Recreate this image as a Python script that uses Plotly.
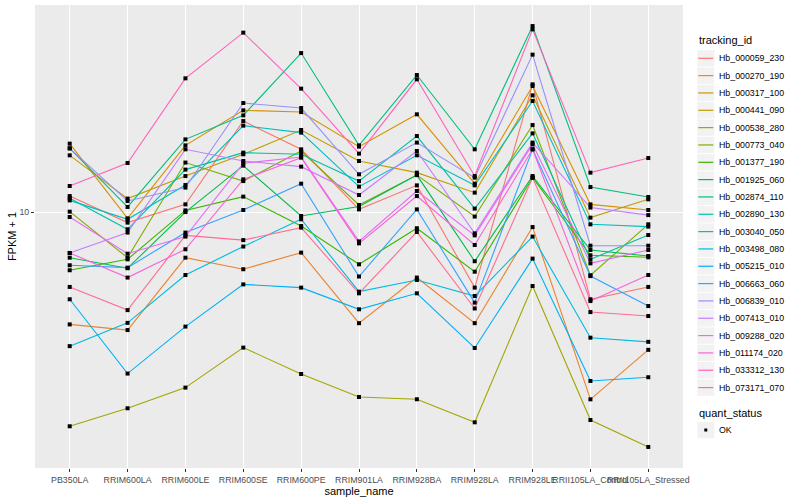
import plotly.graph_objects as go

samples = ["PB350LA", "RRIM600LA", "RRIM600LE", "RRIM600SE", "RRIM600PE", "RRIM901LA",
           "RRIM928BA", "RRIM928LA", "RRIM928LE", "RRII105LA_Control", "RRII105LA_Stressed"]

tracking_ids = ["Hb_000059_230", "Hb_000270_190", "Hb_000317_100", "Hb_000441_090", "Hb_000538_280",
                "Hb_000773_040", "Hb_001377_190", "Hb_001925_060", "Hb_002874_110", "Hb_002890_130",
                "Hb_003040_050", "Hb_003498_080", "Hb_005215_010", "Hb_006663_060", "Hb_006839_010",
                "Hb_007413_010", "Hb_009288_020", "Hb_011174_020", "Hb_033312_130", "Hb_073171_070"]

# FPKM + 1 per sample (same order as samples)
hb_000059_230 = [11.33, 9.24, 10.63, 20.15, 16.22, 10.23, 12.30, 5.61, 26.71, 5.13, 5.64]
hb_000270_190 = [4.23, 4.05, 7.06, 6.46, 7.34, 4.27, 6.06, 4.27, 8.93, 2.38, 3.48]
hb_000317_100 = [16.94, 9.55, 16.72, 21.88, 21.59, 16.56, 21.22, 12.46, 26.36, 10.63, 10.18]
hb_000441_090 = [15.49, 11.11, 13.21, 15.61, 18.81, 14.83, 13.56, 11.63, 24.55, 9.60, 11.05]
hb_000538_280 = [1.935, 2.222, 2.604, 3.540, 2.891, 2.423, 2.381, 1.995, 5.679, 2.031, 1.651]
hb_000773_040 = [10.05, 7.06, 14.65, 12.71, 16.01, 10.58, 13.31, 9.68, 19.54, 6.17, 9.12]
hb_001377_190 = [6.41, 6.97, 10.15, 11.28, 9.00, 6.71, 8.85, 6.34, 13.05, 7.19, 7.08]
hb_001925_060 = [7.06, 6.51, 10.02, 14.31, 9.72, 10.45, 13.31, 6.87, 13.21, 7.49, 7.15]
hb_002874_110 = [16.34, 10.42, 17.51, 21.05, 33.96, 16.72, 28.69, 16.22, 41.78, 12.14, 11.25]
hb_002890_130 = [11.14, 8.78, 13.88, 15.81, 15.61, 12.71, 17.96, 10.29, 18.33, 6.97, 8.40]
hb_003040_050 = [10.96, 9.48, 12.33, 19.45, 18.44, 12.18, 15.49, 12.30, 23.50, 9.12, 8.96]
hb_003498_080 = [3.58, 4.28, 6.18, 7.69, 9.48, 5.44, 5.95, 5.26, 8.30, 3.82, 3.70]
hb_005215_010 = [5.13, 2.90, 4.16, 5.75, 5.61, 4.75, 5.37, 3.53, 7.01, 2.74, 2.82]
hb_006663_060 = [6.66, 6.54, 8.56, 10.18, 12.46, 6.11, 10.23, 5.00, 16.22, 6.13, 4.87]
hb_006839_010 = [16.34, 10.91, 12.09, 23.14, 22.27, 13.39, 17.08, 13.05, 33.55, 7.74, 7.74]
hb_007413_010 = [7.32, 8.56, 16.22, 14.83, 14.20, 11.42, 16.01, 8.51, 17.08, 10.37, 9.79]
hb_009288_020 = [9.65, 7.28, 8.30, 14.57, 15.29, 8.00, 11.78, 8.38, 16.85, 6.76, 7.49]
hb_011174_020 = [7.32, 6.06, 7.53, 12.88, 15.21, 7.88, 11.33, 7.78, 16.22, 5.06, 6.18]
hb_033312_130 = [12.24, 14.60, 27.97, 39.72, 25.84, 15.69, 27.76, 13.21, 40.74, 13.56, 15.17]
hb_073171_070 = [5.64, 4.72, 8.38, 8.08, 8.89, 5.37, 8.60, 4.78, 13.05, 4.65, 4.51]

series_values = [hb_000059_230, hb_000270_190, hb_000317_100, hb_000441_090, hb_000538_280,
                 hb_000773_040, hb_001377_190, hb_001925_060, hb_002874_110, hb_002890_130,
                 hb_003040_050, hb_003498_080, hb_005215_010, hb_006663_060, hb_006839_010,
                 hb_007413_010, hb_009288_020, hb_011174_020, hb_033312_130, hb_073171_070]

quant_status = "OK"

colors = ["#F8766D", "#EA8331", "#D89000", "#C09B00", "#A3A500", "#7CAE00", "#39B600", "#00BB4E",
          "#00BF7D", "#00C1A3", "#00BFC4", "#00BAE0", "#00B0F6", "#35A2FF", "#9590FF", "#C77CFF",
          "#E76BF3", "#FA62DB", "#FF62BC", "#FF6C91"]

FONT = "Liberation Sans, Arial, Helvetica, sans-serif"
W, H = 800, 500
PL, PR, PT, PB = 35, 683, 5, 468  # panel box in pixels


def px2x(px):
    return (px - PL) / (PR - PL)


def py2y(py):
    return (PB - py) / (PB - PT)


fig = go.Figure()
for tid, vals, col in zip(tracking_ids, series_values, colors):
    fig.add_trace(go.Scatter(x=samples, y=vals, mode="lines", name=tid,
                             line=dict(color=col, width=1.1), showlegend=False))

all_x, all_y = [], []
for vals in series_values:
    all_x.extend(samples)
    all_y.extend(vals)
fig.add_trace(go.Scatter(x=all_x, y=all_y, mode="markers", name=quant_status,
                         marker=dict(symbol="square", size=4, color="black"),
                         showlegend=False))

# manual ggplot-style legend
shapes = []
annotations = []
annotations.append(dict(text="tracking_id", xref="paper", yref="paper", x=px2x(697), y=py2y(40.5),
                        xanchor="left", yanchor="middle", showarrow=False,
                        font=dict(size=11, color="black")))
key_x0, key_x1 = 697.3, 714.3
step = 17.33
for i, (tid, col) in enumerate(zip(tracking_ids, colors)):
    cy = 58.3 + i * step
    shapes.append(dict(type="rect", xref="paper", yref="paper", x0=px2x(key_x0), x1=px2x(key_x1),
                       y0=py2y(cy - 8.2), y1=py2y(cy + 8.2), fillcolor="#F2F2F2", line=dict(width=0),
                       layer="below"))
    shapes.append(dict(type="line", xref="paper", yref="paper", x0=px2x(key_x0 + 1), x1=px2x(key_x1 - 1),
                       y0=py2y(cy), y1=py2y(cy), line=dict(color=col, width=1.2)))
    annotations.append(dict(text=tid, xref="paper", yref="paper", x=px2x(716.7), y=py2y(cy),
                            xanchor="left", yanchor="middle", showarrow=False,
                            font=dict(size=8.8, color="black")))

annotations.append(dict(text="quant_status", xref="paper", yref="paper", x=px2x(697), y=py2y(412.7),
                        xanchor="left", yanchor="middle", showarrow=False,
                        font=dict(size=11, color="black")))
ok_cy = 430.0
shapes.append(dict(type="rect", xref="paper", yref="paper", x0=px2x(key_x0), x1=px2x(key_x1),
                   y0=py2y(ok_cy - 8.2), y1=py2y(ok_cy + 8.2), fillcolor="#F2F2F2", line=dict(width=0)))
shapes.append(dict(type="rect", xref="paper", yref="paper", x0=px2x(704.3), x1=px2x(707.3),
                   y0=py2y(ok_cy - 1.5), y1=py2y(ok_cy + 1.5), fillcolor="black", line=dict(width=0)))
annotations.append(dict(text=quant_status, xref="paper", yref="paper", x=px2x(716.7), y=py2y(ok_cy),
                        xanchor="left", yanchor="middle", showarrow=False,
                        font=dict(size=8.8, color="black")))

fig.update_layout(
    width=W, height=H,
    paper_bgcolor="white", plot_bgcolor="#EBEBEB",
    margin=dict(l=PL, r=W - PR, t=PT, b=H - PB),
    font=dict(family=FONT, size=9, color="black"),
    showlegend=False,
    shapes=shapes,
    annotations=annotations,
    xaxis=dict(type="category", categoryorder="array", categoryarray=samples,
               range=[-0.6, 10.6], showgrid=True, gridcolor="white", gridwidth=1.1,
               ticks="outside", ticklen=3, tickcolor="#333333", tickwidth=1, tickangle=0,
               tickfont=dict(size=8.8, color="#4D4D4D"), zeroline=False, showline=False,
               automargin=False,
               title=dict(text="sample_name", font=dict(size=11, color="black"), standoff=0)),
    yaxis=dict(type="log", range=[0.1476, 1.6912], tickvals=[10], ticktext=["10"],
               showgrid=True, gridcolor="white", gridwidth=1.1,
               ticks="outside", ticklen=3, tickcolor="#333333", tickwidth=1,
               tickfont=dict(size=8.8, color="#4D4D4D"), zeroline=False, showline=False,
               automargin=False,
               title=dict(text="FPKM + 1", font=dict(size=11, color="black"), standoff=0)),
)

fig.write_html("out.html", config={"displayModeBar": False},
               post_script="document.body.style.margin='0';document.body.style.padding='0';")
